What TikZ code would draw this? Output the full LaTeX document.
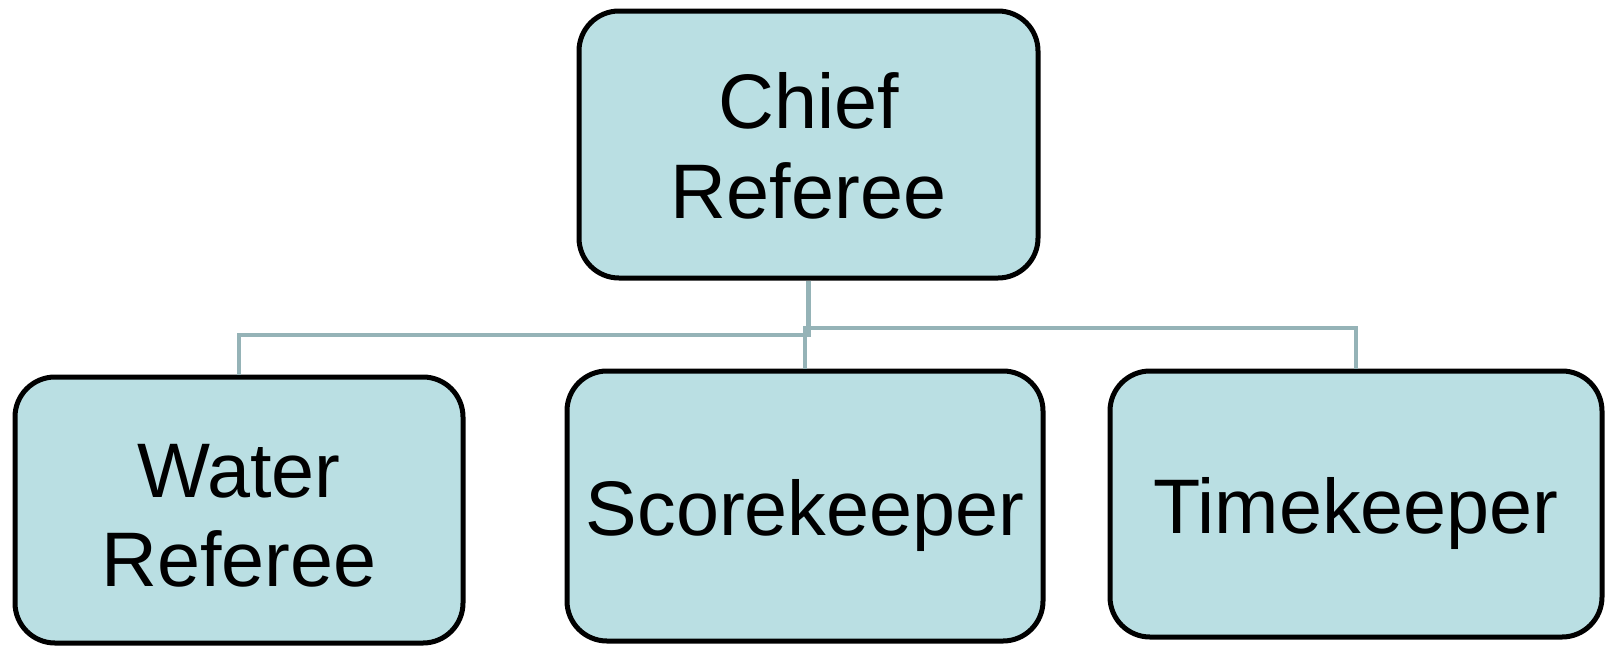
\documentclass[tikz,border=0pt]{standalone}
\usepackage{fontspec}
\setmainfont{Liberation Sans}
\definecolor{boxfill}{HTML}{BADFE3}
\definecolor{connc}{HTML}{95B3B7}
\tikzset{
  orgbox/.style={draw=black, line width=3.75pt, fill=boxfill, rounded corners=30pt,
    inner sep=0pt, rectangle},
  lbl/.style={inner sep=0pt, anchor=base, font=\fontsize{58pt}{67.5pt}\selectfont},
  conn/.style={draw=connc, line width=3.5pt}
}
\begin{document}
\begin{tikzpicture}[x=0.75pt, y=-0.75pt]
\useasboundingbox (0,0) rectangle (1610,647);
% boxes
\node[orgbox, minimum width=459*0.75pt, minimum height=267*0.75pt] (chief) at (808.5,144.5) {};
\node[orgbox, minimum width=448*0.75pt, minimum height=266*0.75pt] (water) at (239,510) {};
\node[orgbox, minimum width=476*0.75pt, minimum height=270*0.75pt] (score) at (805,506) {};
\node[orgbox, minimum width=492*0.75pt, minimum height=266*0.75pt] (time) at (1356,504) {};
% bus levels
\coordinate (busL) at (0,335);
\coordinate (busR) at (0,328);
% connectors
\draw[conn] (chief.south) -- (chief.south |- busL) -| (water.north);
\draw[conn] (chief.south) -- (chief.south |- busR) -| (score.north);
\draw[conn] (chief.south) -- (chief.south |- busR) -| (time.north);
% labels
\node[lbl] (chiefA) at (808.5,128) {Chief};
\node[lbl] (chiefB) at (808.5,218) {Referee};
\node[lbl] (waterA) at (239,497) {Water};
\node[lbl] (waterB) at (239,586) {Referee};
\node[lbl] (scoreA) at (805,535) {Scorekeeper};
\node[lbl] (timeA) at (1356,533) {Timekeeper};
\end{tikzpicture}
\end{document}
